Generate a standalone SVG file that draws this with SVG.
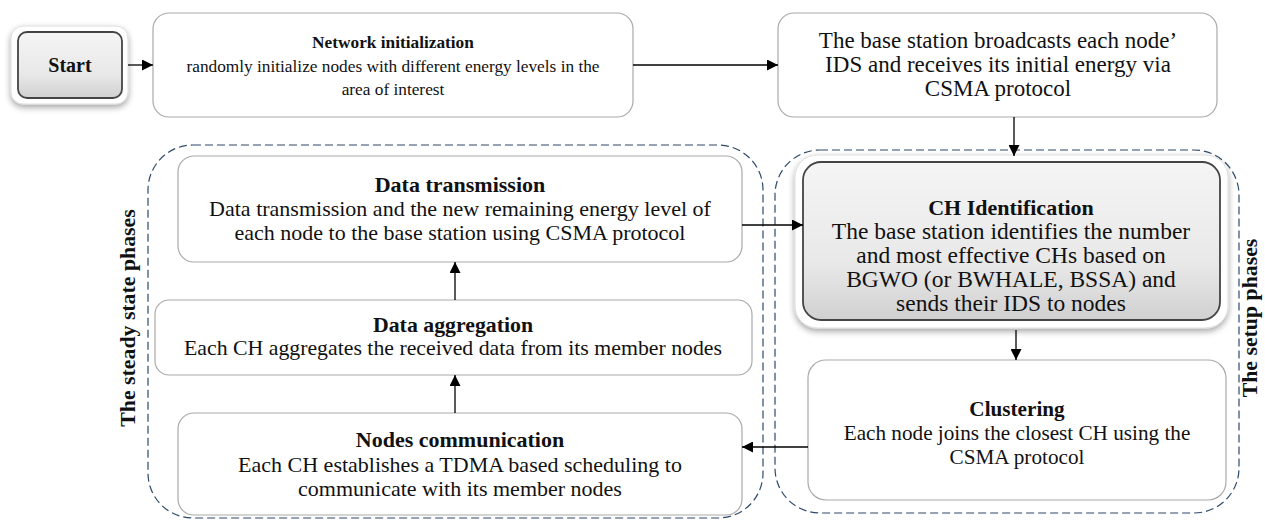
<svg xmlns="http://www.w3.org/2000/svg" width="1265" height="525" viewBox="0 0 1265 525">
<defs>
<linearGradient id="btn" x1="0" y1="0" x2="0" y2="1">
<stop offset="0" stop-color="#f5f5f5"/>
<stop offset="0.65" stop-color="#e8e8e8"/>
<stop offset="1" stop-color="#d0d0d0"/>
</linearGradient>
<filter id="sh" x="-10%" y="-10%" width="120%" height="130%">
<feDropShadow dx="0" dy="3" stdDeviation="3" flood-color="#000" flood-opacity="0.35"/>
</filter>
<marker id="ah" viewBox="0 0 10 10" refX="10" refY="5" markerWidth="11" markerHeight="11" markerUnits="userSpaceOnUse" orient="auto">
<path d="M0,0 L10,5 L0,10 z" fill="#000"/>
</marker>
<style>
.box{fill:#fff;stroke:#aaa;stroke-width:1.2}
.frame{fill:#fff;stroke:#ddd;stroke-width:1}
.inner{fill:url(#btn);stroke:#444;stroke-width:1.8}
.dash{fill:none;stroke:#2c4a6b;stroke-width:1.2;stroke-dasharray:8 4}
.t{font-family:"Liberation Serif","Times New Roman",serif;fill:#111;text-anchor:middle}
.b{font-weight:bold}
.v{font-family:"Liberation Serif","Times New Roman",serif;font-weight:bold;fill:#111;text-anchor:middle}
.c{stroke:#000;stroke-width:1.3;fill:none;marker-end:url(#ah)}
</style>
</defs>

<g id="containers">
<rect class="dash" x="148" y="145" width="615" height="373" rx="45"/>
<rect class="dash" x="775" y="150" width="464" height="363" rx="45"/>
<text class="v" font-size="21.8" transform="translate(135,318) rotate(-90)">The steady state phases</text>
<text class="v" font-size="21.8" transform="translate(1257,318) rotate(-90)">The setup phases</text>
</g>

<g id="start">
<rect class="frame" x="11" y="26" width="117" height="78" rx="12" filter="url(#sh)"/>
<rect class="inner" x="18" y="32" width="104" height="66" rx="9"/>
<text class="t b" x="70" y="72" font-size="20">Start</text>
</g>

<g id="network-init" font-size="17.3">
<rect class="box" x="153" y="13" width="480" height="104" rx="16"/>
<text class="t b" x="393" y="48">Network initialization</text>
<text class="t" x="393" y="72">randomly initialize nodes with different energy levels in the</text>
<text class="t" x="393" y="95">area of interest</text>
</g>

<g id="broadcast" font-size="23">
<rect class="box" x="778" y="13" width="439" height="104" rx="16"/>
<text class="t" x="998" y="48">The base station broadcasts each node’</text>
<text class="t" x="998" y="72">IDS and receives its initial energy via</text>
<text class="t" x="998" y="96">CSMA protocol</text>
</g>

<g id="ch-identification" font-size="23.5">
<rect class="frame" x="795" y="155" width="433" height="173" rx="22" filter="url(#sh)"/>
<rect class="inner" x="803" y="162" width="417" height="158" rx="18"/>
<text class="t b" x="1011" y="215" font-size="22">CH Identification</text>
<text class="t" x="1011" y="239">The base station identifies the number</text>
<text class="t" x="1011" y="263">and most effective CHs based on</text>
<text class="t" x="1011" y="287">BGWO (or BWHALE, BSSA) and</text>
<text class="t" x="1011" y="311">sends their IDS to nodes</text>
</g>

<g id="clustering" font-size="21.2">
<rect class="box" x="808" y="360" width="418" height="140" rx="18"/>
<text class="t b" x="1017" y="416">Clustering</text>
<text class="t" x="1017" y="440">Each node joins the closest CH using the</text>
<text class="t" x="1017" y="464">CSMA protocol</text>
</g>

<g id="data-transmission" font-size="22">
<rect class="box" x="178" y="156" width="564" height="106" rx="16"/>
<text class="t b" x="460" y="192">Data transmission</text>
<text class="t" x="460" y="216">Data transmission and the new remaining energy level of</text>
<text class="t" x="460" y="240">each node to the base station using CSMA protocol</text>
</g>

<g id="data-aggregation" font-size="21.8">
<rect class="box" x="155" y="300" width="597" height="75" rx="14"/>
<text class="t b" x="453" y="332">Data aggregation</text>
<text class="t" x="453" y="355">Each CH aggregates the received data from its member nodes</text>
</g>

<g id="nodes-communication" font-size="22">
<rect class="box" x="178" y="413" width="564" height="102" rx="16"/>
<text class="t b" x="460" y="447">Nodes communication</text>
<text class="t" x="460" y="472">Each CH establishes a TDMA based scheduling to</text>
<text class="t" x="460" y="496">communicate with its member nodes</text>
</g>

<g id="connectors">
<line class="c" x1="128" y1="65" x2="153" y2="65"/>
<line class="c" x1="633" y1="65" x2="778" y2="65"/>
<line class="c" x1="1014" y1="117" x2="1014" y2="156"/>
<line class="c" x1="742" y1="225" x2="803" y2="225"/>
<line class="c" x1="1016" y1="330" x2="1016" y2="360"/>
<line class="c" x1="808" y1="447" x2="742" y2="447"/>
<line class="c" x1="455" y1="413" x2="455" y2="375"/>
<line class="c" x1="455" y1="300" x2="455" y2="262"/>
</g>
</svg>
